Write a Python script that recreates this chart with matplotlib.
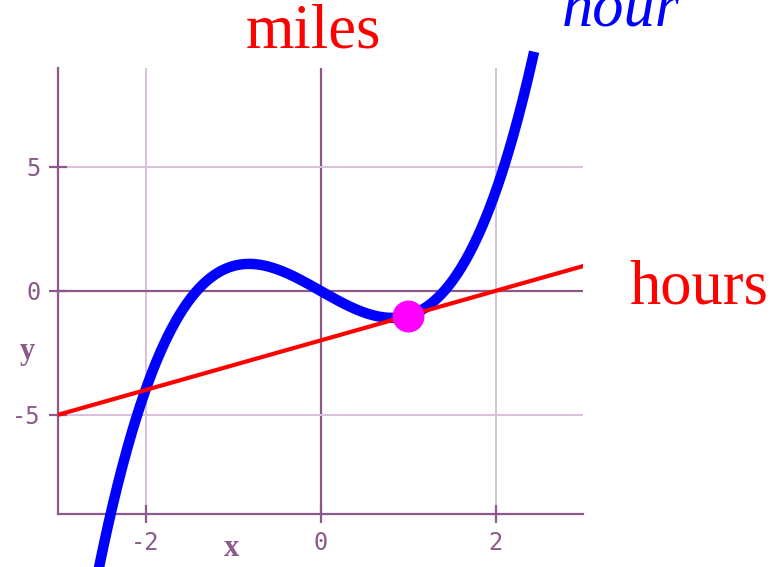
import numpy as np
import matplotlib
matplotlib.use("Agg")
import matplotlib.pyplot as plt

plt.rcParams["axes.unicode_minus"] = False

# Data
curve_coeffs = [1, 0, -2, 0]          # y = x^3 - 2x
curve_x_range = [-3.0, 2.44]
tangent_slope = 1.0
tangent_intercept = -2.0
tangent_x_range = [-3.0, 3.0]
point_x = [1.0]
point_y = [-1.0]
xticks = [-2, 0, 2]
yticks = [-5, 0, 5]
xlim = [-3, 3]
ylim = [-9, 9]

purple = "#8b5a8b"
light = "#d9bfd9"

fig = plt.figure(figsize=(7.7, 5.67), dpi=100)
ax = fig.add_axes([0.0753, 0.0935, 0.682, 0.787])
ax.set_xlim(xlim)
ax.set_ylim(ylim)

# grid
for t in xticks:
    ax.axvline(t, color=purple if t == 0 else light, lw=1.6 if t == 0 else 1.4, zorder=1)
for t in yticks:
    ax.axhline(t, color=purple if t == 0 else light, lw=1.6 if t == 0 else 1.4, zorder=1)

xs = np.linspace(curve_x_range[0], curve_x_range[1], 600)
ys = np.polyval(curve_coeffs, xs)
ax.plot(xs, ys, color="#0000ff", lw=7.5, clip_on=False, zorder=3, solid_capstyle="butt")

tx = np.array(tangent_x_range)
ax.plot(tx, tangent_slope * tx + tangent_intercept, color="#ff0000", lw=3, zorder=4)

ax.plot(point_x, point_y, "o", color="#ff00ff", ms=22, zorder=5, clip_on=False)

for s in ["top", "right"]:
    ax.spines[s].set_visible(False)
for s in ["left", "bottom"]:
    ax.spines[s].set_color(purple)
    ax.spines[s].set_linewidth(1.6)

ax.set_xticks(xticks)
ax.set_yticks(yticks)
ax.tick_params(direction="inout", length=13, width=1.6, color=purple,
               labelcolor=purple, labelsize=17, pad=6)
for lab in ax.get_xticklabels() + ax.get_yticklabels():
    lab.set_family("DejaVu Sans Mono")

fig.text(232 / 770, 1 - 548 / 567, "x", color=purple, fontsize=22,
         family="Liberation Serif", weight="bold", ha="center", va="center")
fig.text(27 / 770, 1 - 352 / 567, "y", color=purple, fontsize=22,
         family="Liberation Serif", weight="bold", ha="center", va="center")

fig.text(313 / 770, 1 - 33 / 567, "miles", color="#ff0000", fontsize=45,
         family="Liberation Serif", ha="center", va="center")
fig.text(699 / 770, 1 - 288 / 567, "hours", color="#ff0000", fontsize=45,
         family="Liberation Serif", ha="center", va="center")
fig.text(621 / 770, 1 - 10 / 567, "hour", color="#0000ff", fontsize=45,
         family="Liberation Serif", style="italic", ha="center", va="center")

fig.savefig("out.png", dpi=100)
